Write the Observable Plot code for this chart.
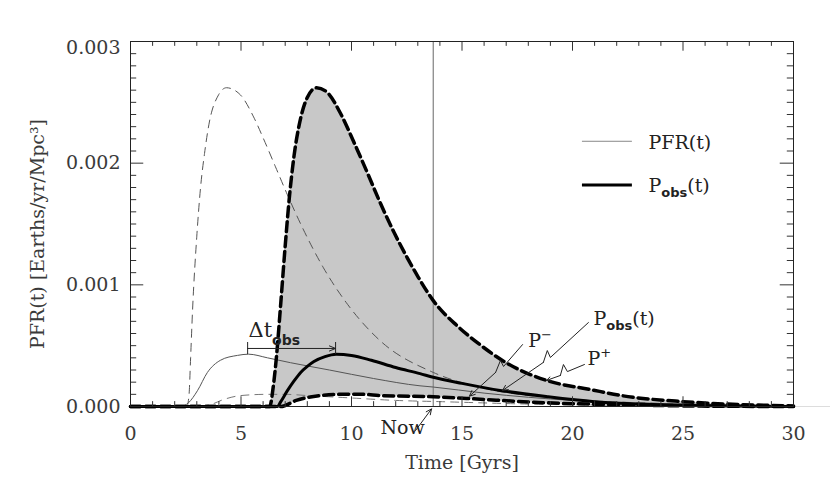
<!DOCTYPE html>
<html><head><meta charset="utf-8">
<script src="https://cdn.jsdelivr.net/npm/d3@7"></script>
<script src="https://cdn.jsdelivr.net/npm/@observablehq/plot@0.6"></script>
<style>
body{margin:0;background:#fff}
#chart svg{display:block}
</style>
</head><body><div id="chart"></div>
<script>
// ---- data ----
// PFR(t) (thin solid)
const pfrT = [0, 2.3, 2.62, 3.03, 3.48, 4.07, 4.84, 5.34, 6.2, 7.24, 9.0, 11.0, 13.1, 13.7, 16.0, 20.0, 25.0, 30.0];
const pfrV = [0, 0, 0.00003, 0.00013, 0.00028, 0.00038, 0.00042, 0.00043, 0.0004, 0.00036, 0.0003, 0.00023, 0.00017, 0.00016, 0.00011, 0.00005, 0.00002, 0.000005];
// PFR upper bound (thin dashed)
const pfrUpT = [0, 2.55, 2.65, 2.72, 2.81, 3.0, 3.17, 3.35, 3.55, 3.98, 4.34, 4.98, 5.57, 6.02, 6.56, 7.1, 7.78, 8.73, 9.82, 11.3, 13.7, 16, 20, 25, 30];
const pfrUpV = [0, 0, 0.0001, 0.0004, 0.0008, 0.0014, 0.0018, 0.00208, 0.00232, 0.00256, 0.00262, 0.00256, 0.00238, 0.0022, 0.00197, 0.00174, 0.00147, 0.00114, 0.00084, 0.00054, 0.00028, 0.00015, 0.00006, 0.00002, 0];
// PFR lower bound (thin dashed)
const pfrLoT = [0, 3.0, 3.7, 4.1, 5.0, 6.2, 7.0, 8.0, 10.0, 12.0, 14.0, 18.0, 22.0, 30.0];
const pfrLoV = [0, 0, 0.00002, 0.00005, 0.00009, 0.0001, 0.0001, 0.00009, 0.00007, 0.00005, 0.00004, 0.00002, 0.00001, 0];
// P+ (thick dashed upper)
const pPlusT = [0, 6.3, 6.45, 6.6, 6.8, 7.0, 7.2, 7.4, 7.7, 8.0, 8.42, 8.91, 9.5, 10.09, 10.72, 11.31, 11.9, 12.53, 13.03, 13.7, 14.8, 15.8, 16.9, 18.9, 20.8, 22.2, 25, 27, 30];
const pPlusV = [0, 0, 0.00015, 0.0004, 0.00085, 0.00132, 0.00174, 0.00206, 0.00237, 0.00254, 0.00262, 0.00258, 0.00241, 0.00218, 0.00192, 0.00167, 0.00144, 0.00122, 0.00106, 0.00087, 0.00066, 0.00051, 0.00037, 0.00021, 0.00014, 0.00009, 0.00004, 0.00002, 0.000005];
// P- (thick dashed lower)
const pMinusT = [0, 6.8, 7.5, 8.6, 9.6, 10.5, 11.3, 13.7, 15.2, 18.9, 22, 25, 30];
const pMinusV = [0, 0, 0.00005, 0.00009, 0.0001, 0.0001, 0.00009, 0.00008, 0.000066, 0.00003, 0.000015, 0.000005, 0];
// P_obs(t) (thick solid)
const pObsT = [0, 6.65, 6.8, 7.1, 7.4, 7.7, 8.0, 8.3, 8.8, 9.3, 10.0, 10.9, 12.0, 13.1, 13.7, 15.0, 16.8, 18.9, 21, 24, 27, 30];
const pObsV = [0, 0, 0.00004, 0.00013, 0.00021, 0.00028, 0.00033, 0.00037, 0.00041, 0.00043, 0.00042, 0.00038, 0.00032, 0.00027, 0.00024, 0.00019, 0.00013, 0.00008, 0.00004, 0.000015, 0.000005, 0];

const nowT = 13.7;
const xMajor = [0, 5, 10, 15, 20, 25, 30];
const xMinor = d3.range(0, 31, 1);
const yMajor = [0, 0.001, 0.002, 0.003];
const yMinor = d3.range(0, 31, 1).map(i => i * 0.0001);
const xTitle = "Time [Gyrs]";
const yTitle = "PFR(t) [Earths/yr/Mpc³]";
const legendLabels = ["PFR(t)", "P_{obs}(t)"];

// annotation anchors (data units)
const legendY = [0.00218, 0.00182];
const nowLabel = {t: 12.31, v: -0.00018, label: "Now"};
const annotations = [
  {t: 18.0, v: 0.00054, label: "P^{−}"},
  {t: 20.68, v: 0.00039, label: "P^{+}"},
  {t: 20.95, v: 0.00072, label: "P_{obs}(t)"},
  {t: 5.34, v: 0.00063, label: "Δt_{obs}"}
];
const zigzags = [
  {id: "Pm", pts: [[17.74, 0.000509], [16.88, 0.000329], [16.74, 0.000378], [16.52, 0.000280]], tip: [15.34, 0.000085]},
  {id: "Po", pts: [[20.72, 0.00069], [19.0, 0.000403], [18.86, 0.000460], [18.68, 0.000362]], tip: [16.83, 0.000131]},
  {id: "Pp", pts: [[20.54, 0.000345], [19.77, 0.000287], [19.59, 0.000345], [19.45, 0.000255]], tip: [18.82, 0.000214]}
];
const nowArrow = {t1: 12.9, v1: -0.000197, t2: 13.62, v2: -0.00002};
const dtArrow = {t1: 5.3, t2: 9.28, v: 0.000477, barLo: 0.000427, barHi: 0.000526};

const tab = (T, V) => T.map((t, i) => ({t, v: V[i]}));
const pfr = tab(pfrT, pfrV), pfrUp = tab(pfrUpT, pfrUpV), pfrLo = tab(pfrLoT, pfrLoV);
const pPlus = tab(pPlusT, pPlusV), pMinus = tab(pMinusT, pMinusV), pObs = tab(pObsT, pObsV);

const ink = "#222", txt = "#3a3a3a";
const zzLines = zigzags.flatMap(z => z.pts.map(([t, v]) => ({id: z.id, t, v})));

const chart = Plot.plot({
  width: 830, height: 489,
  marginLeft: 130, marginRight: 37, marginTop: 41, marginBottom: 83,
  x: {domain: [0, 30], axis: null},
  y: {domain: [0, 0.003], axis: null},
  style: {fontFamily: "DejaVu Serif, serif", fontSize: "19px", color: txt, background: "#fff"},
  marks: [
    Plot.areaY(pPlus, {x: "t", y: "v", fill: "#c8c8c8", curve: "monotone-x"}),
    Plot.areaY(pMinus, {x: "t", y: "v", fill: "#fff", curve: "monotone-x"}),
    Plot.ruleX([nowT], {stroke: "#8a8a8a", strokeWidth: 1.3}),
    Plot.ruleY([0], {x1: 30, x2: 31.7, stroke: "#ddd"}),
    Plot.line(pfrUp, {x: "t", y: "v", stroke: "#555", strokeWidth: 1, strokeDasharray: "8,6", curve: "monotone-x"}),
    Plot.line(pfrLo, {x: "t", y: "v", stroke: "#777", strokeWidth: 1, strokeDasharray: "8,6", curve: "monotone-x"}),
    Plot.line(pfr, {x: "t", y: "v", stroke: "#555", strokeWidth: 1, curve: "monotone-x"}),
    Plot.line(pPlus, {x: "t", y: "v", stroke: "#000", strokeWidth: 3.5, strokeDasharray: "10,5", curve: "monotone-x"}),
    Plot.line(pMinus, {x: "t", y: "v", stroke: "#000", strokeWidth: 3.5, strokeDasharray: "10,5", curve: "monotone-x"}),
    Plot.line(pObs, {x: "t", y: "v", stroke: "#000", strokeWidth: 3, curve: "monotone-x"}),
    // ticks (inward, all four sides)
    Plot.ruleX(xMinor, {y1: 0, y2: d => xMajor.includes(d) ? 0.00008 : 0.00004, stroke: "#333"}),
    Plot.ruleX(xMinor, {y1: 0.003, y2: d => xMajor.includes(d) ? 0.003 - 0.00008 : 0.003 - 0.00004, stroke: "#333"}),
    Plot.ruleY(yMinor, {x1: 0, x2: (d, i) => i % 10 === 0 ? 0.6 : 0.28, stroke: "#333"}),
    Plot.ruleY(yMinor, {x1: 30, x2: (d, i) => i % 10 === 0 ? 29.4 : 29.72, stroke: "#333"}),
    Plot.frame({stroke: "#222", strokeWidth: 1}),
    Plot.axisX(xMajor, {anchor: "bottom", tickSize: 0, tickPadding: 20, label: null, fill: txt}),
    Plot.axisY(yMajor.slice(0, 3), {anchor: "left", tickSize: 0, tickPadding: 10, tickFormat: d3.format(".3f"), label: null, fill: txt}),
    Plot.axisY(yMajor.slice(3), {anchor: "left", tickSize: 0, tickPadding: 10, tickFormat: d3.format(".3f"), label: null, fill: txt, dy: 6}),
    Plot.text([xTitle], {frameAnchor: "bottom", textAnchor: "middle", lineAnchor: "middle", dy: 56, fill: txt}),
    Plot.text([yTitle], {frameAnchor: "left", textAnchor: "middle", lineAnchor: "middle", dx: -93, dy: 10, rotate: -90, fill: txt}),
    // legend
    Plot.ruleY(legendY.slice(0, 1), {x1: 20.45, x2: 22.71, stroke: "#888", strokeWidth: 1}),
    Plot.ruleY(legendY.slice(1), {x1: 20.45, x2: 22.71, stroke: "#000", strokeWidth: 3}),
    Plot.text(legendLabels, {x: 23.44, y: (d, i) => legendY[i] - 0.00001, textAnchor: "start", fill: ink}),
    // annotations
    Plot.text([nowLabel], {x: "t", y: "v", text: "label", textAnchor: "middle", fill: ink}),
    Plot.text(annotations, {x: "t", y: "v", text: "label", textAnchor: "start", fill: ink}),
    Plot.line(zzLines, {x: "t", y: "v", z: "id", stroke: ink, strokeWidth: 1}),
    Plot.arrow(zigzags, {x1: d => d.pts[3][0], y1: d => d.pts[3][1], x2: d => d.tip[0], y2: d => d.tip[1], stroke: ink, strokeWidth: 1, headLength: 9, headAngle: 50}),
    Plot.arrow([nowArrow], {x1: "t1", y1: "v1", x2: "t2", y2: "v2", stroke: ink, strokeWidth: 1, headLength: 9, headAngle: 50}),
    Plot.arrow([dtArrow], {x1: "t1", y1: "v", x2: "t2", y2: "v", stroke: ink, strokeWidth: 1, headLength: 10, headAngle: 45}),
    Plot.ruleX([dtArrow.t1, dtArrow.t2], {y1: dtArrow.barLo, y2: dtArrow.barHi, stroke: ink, strokeWidth: 1})
  ]
});

// rich text: _{sub} and ^{sup}
d3.select(chart).selectAll("text").each(function() {
  const s = this.textContent;
  if (!/[_^]\{/.test(s)) return;
  const big = s.startsWith("Δ");
  const subDy = big ? 8 : 5, supDy = 8;
  const el = d3.select(this);
  el.text(null);
  if (big) el.attr("font-size", 21);
  const re = /([_^])\{([^}]*)\}/g;
  const parts = [];
  let last = 0, m;
  while ((m = re.exec(s))) {
    if (m.index > last) parts.push({t: s.slice(last, m.index), k: ""});
    parts.push({t: m[2], k: m[1]});
    last = re.lastIndex;
  }
  if (last < s.length) parts.push({t: s.slice(last), k: ""});
  let cur = 0;
  for (const p of parts) {
    const off = p.k === "_" ? subDy : p.k === "^" ? -supDy : 0;
    const ts = el.append("tspan").attr("dy", off - cur).text(p.t);
    cur = off;
    if (p.k === "_") ts.attr("font-family", "DejaVu Sans, sans-serif").attr("font-weight", "bold").attr("font-size", big ? 14 : 13);
    if (p.k === "^") ts.attr("font-family", "DejaVu Sans, sans-serif").attr("font-size", 13);
  }
});

document.getElementById("chart").append(chart);
</script>
</body></html>
